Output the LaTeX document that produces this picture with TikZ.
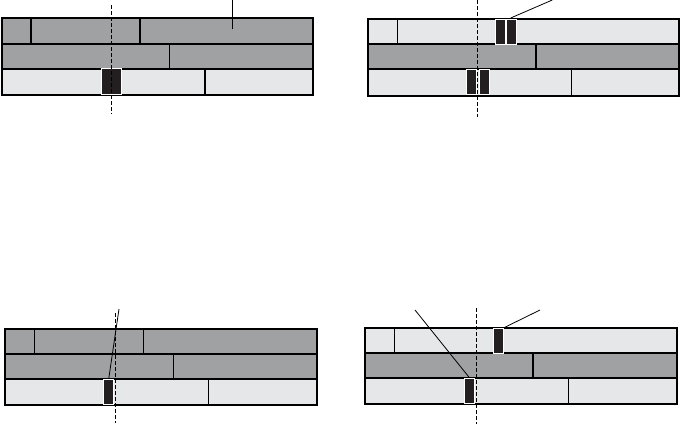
\documentclass[tikz,border=0pt]{standalone}
\begin{document}
\begin{tikzpicture}[x=1pt,y=-1pt,
  dark/.style={fill={rgb,255:red,160;green,161;blue,162}},
  light/.style={fill={rgb,255:red,230;green,231;blue,232}},
  frame/.style={draw=black,line width=2pt},
  rowline/.style={draw=black,line width=2pt},
  divider/.style={draw=black,line width=1.6pt},
  thindiv/.style={draw=black,line width=1.1pt},
  block/.style={fill={rgb,255:red,35;green,31;blue,32},draw=white,line width=1pt},
  axis/.style={draw=black,line width=1pt,dash pattern=on 3.5pt off 2.5pt},
  leader/.style={draw=black,line width=0.8pt}]
\useasboundingbox (0,0) rectangle (681,426);

% ---------- Panel 1 ----------
\fill[dark] (2,18) rectangle (313,43.5);
\fill[dark] (2,43.5) rectangle (313,69);
\fill[light] (2,69) rectangle (313,95);
\draw[divider] (31,18) -- (31,43.5);
\draw[divider] (140,18) -- (140,43.5);
\draw[thindiv] (169.5,43.5) -- (169.5,69);
\draw[divider] (205,69) -- (205,95);
\draw[rowline] (2,43.5) -- (313,43.5);
\draw[rowline] (2,69) -- (313,69);
\draw[frame] (2,18) rectangle (313,95);
\node[block,inner sep=0,minimum width=20pt,minimum height=25.5pt] (b1) at (111.7,81.7) {};
\coordinate (a1t) at (111.7,5);
\coordinate (a1b) at (111.7,114);
\draw[axis] (a1t) -- (a1b);
\coordinate (l1a) at (232,0);
\coordinate (l1b) at (232,29);
\draw[leader] (l1a) -- (l1b);

% ---------- Panel 2 ----------
\fill[light] (368,18.5) rectangle (679,44.3);
\fill[dark] (368,44.3) rectangle (679,69.3);
\fill[light] (368,69.3) rectangle (679,95.5);
\draw[thindiv] (397.3,18.5) -- (397.3,44.3);
\draw[divider] (536,44.3) -- (536,69.3);
\draw[thindiv] (571.7,69.3) -- (571.7,95.5);
\draw[rowline] (368,44.3) -- (679,44.3);
\draw[rowline] (368,69.3) -- (679,69.3);
\draw[frame] (368,18.5) rectangle (679,95.5);
\node[block,inner sep=0,minimum width=10.5pt,minimum height=25pt] (b2a) at (500.7,31.7) {};
\node[block,inner sep=0,minimum width=10.5pt,minimum height=25pt] (b2b) at (511.3,31.7) {};
\node[block,inner sep=0,minimum width=10.5pt,minimum height=25pt] (b2c) at (471.7,81.8) {};
\node[block,inner sep=0,minimum width=10.5pt,minimum height=25pt] (b2d) at (484.3,81.8) {};
\coordinate (a2t) at (477.3,0);
\coordinate (a2b) at (477.3,117);
\draw[axis] (a2t) -- (a2b);
\coordinate (l2a) at (552.3,0);
\draw[leader] (l2a) -- (510.7,18);

% ---------- Panel 3 ----------
\fill[dark] (5,328.5) rectangle (316.5,354.3);
\fill[dark] (5,354.3) rectangle (316.5,379);
\fill[light] (5,379) rectangle (316.5,405);
\draw[thindiv] (34.3,328.5) -- (34.3,354.3);
\draw[thindiv] (143.3,328.5) -- (143.3,354.3);
\draw[divider] (173.3,354.3) -- (173.3,379);
\draw[thindiv] (208.3,379) -- (208.3,405);
\draw[rowline] (5,354.3) -- (316.5,354.3);
\draw[rowline] (5,379) -- (316.5,379);
\draw[frame] (5,328.5) rectangle (316.5,405);
\node[block,inner sep=0,minimum width=10pt,minimum height=25pt] (b3) at (108.7,392) {};
\coordinate (a3t) at (115,313);
\coordinate (a3b) at (115,423);
\draw[axis] (a3t) -- (a3b);
\coordinate (l3a) at (119,309);
\draw[leader] (l3a) -- (b3.north);

% ---------- Panel 4 ----------
\fill[light] (365,327.5) rectangle (676.5,353.3);
\fill[dark] (365,353.3) rectangle (676.5,378.3);
\fill[light] (365,378.3) rectangle (676.5,404.3);
\draw[thindiv] (394.3,327.5) -- (394.3,353.3);
\draw[divider] (533,353.3) -- (533,378.3);
\draw[thindiv] (568.3,378.3) -- (568.3,404.3);
\draw[rowline] (365,353.3) -- (676.5,353.3);
\draw[rowline] (365,378.3) -- (676.5,378.3);
\draw[frame] (365,327.5) rectangle (676.5,404.3);
\node[block,inner sep=0,minimum width=10pt,minimum height=25pt] (b4a) at (498.3,340.8) {};
\node[block,inner sep=0,minimum width=10pt,minimum height=25pt] (b4b) at (469.5,390.8) {};
\coordinate (a4t) at (476,308);
\coordinate (a4b) at (476,424);
\draw[axis] (a4t) -- (a4b);
\coordinate (l4a) at (415,310);
\coordinate (l4b) at (540,310);
\draw[leader] (l4a) -- (b4b.north);
\draw[leader] (l4b) -- (b4a.north east);
\end{tikzpicture}
\end{document}
